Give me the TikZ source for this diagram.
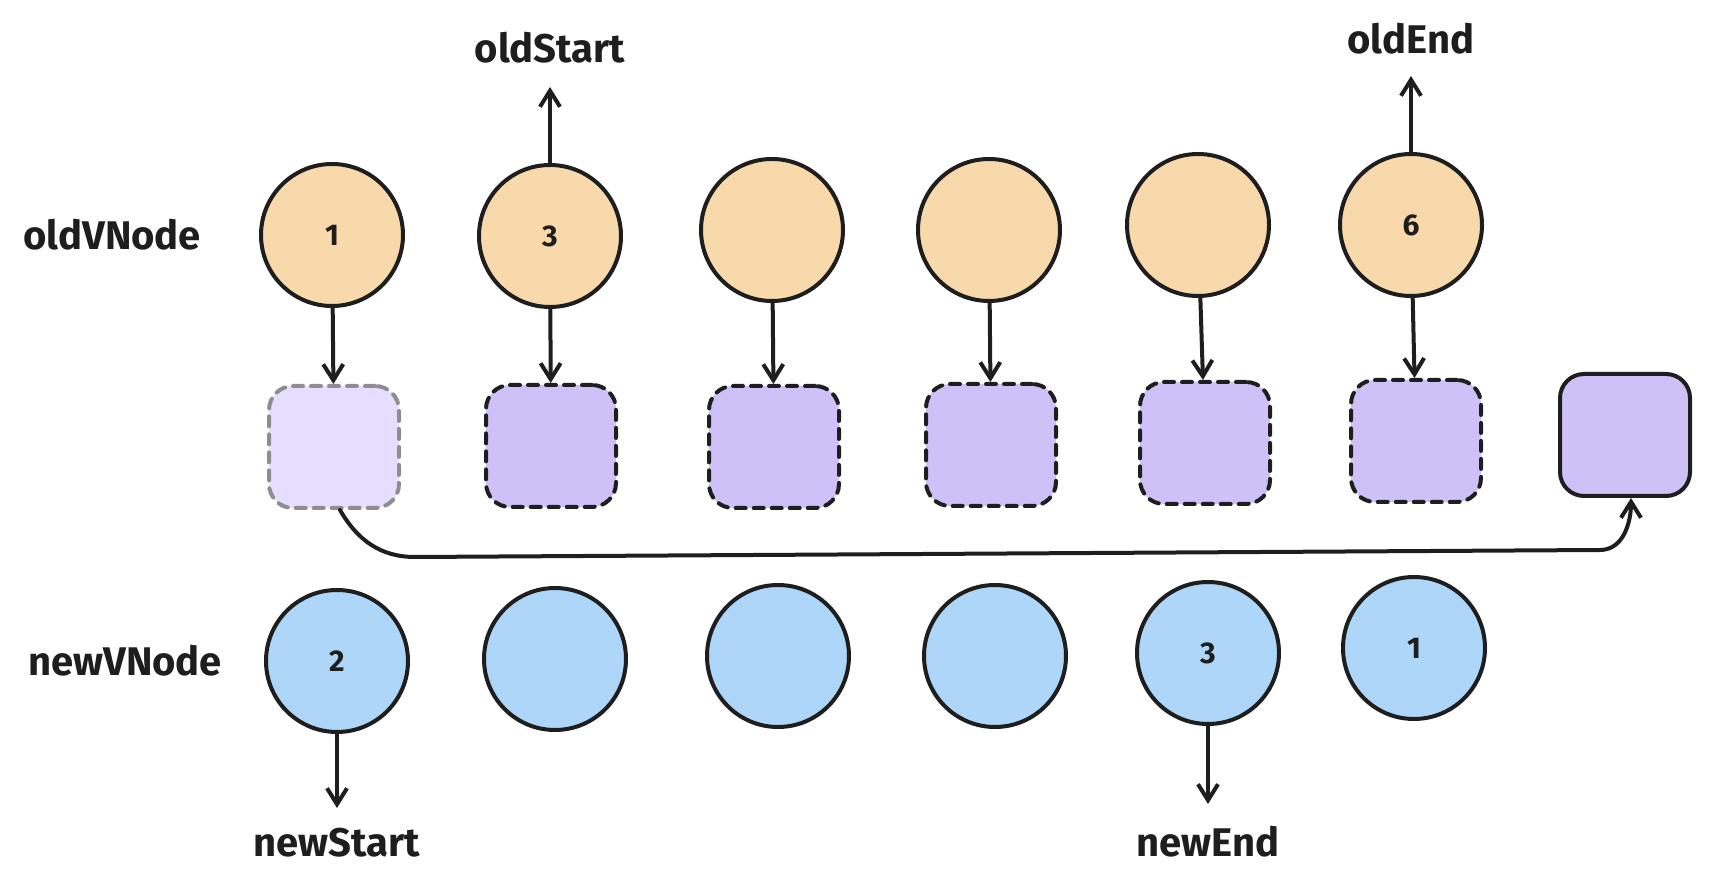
\documentclass[tikz,border=0pt]{standalone}
\usepackage{fontspec}
\setmainfont{Fira Sans}
\usetikzlibrary{arrows.meta,positioning}

\definecolor{ink}{RGB}{30,30,30}
\definecolor{oldfill}{RGB}{248,217,172}
\definecolor{newfill}{RGB}{174,214,248}
\definecolor{vfill}{RGB}{206,193,248}
\definecolor{ghostfill}{RGB}{229,222,255}
\definecolor{ghostline}{RGB}{142,142,142}

\begin{document}
\begin{tikzpicture}[
  x=0.5pt, y=-0.5pt, >={Straight Barb[length=8pt,width=10pt]},
  line width=2pt, line cap=round, line join=round, color=ink,
  oldv/.style={circle, draw=ink, fill=oldfill, minimum size=71pt, inner sep=0pt, font=\bfseries\fontsize{15}{15}\selectfont},
  newv/.style={oldv, fill=newfill},
  elm/.style={draw=ink, fill=vfill, rounded corners=12pt, minimum width=65pt, minimum height=61pt, dash pattern=on 5pt off 4pt},
  ghost/.style={elm, draw=ghostline, fill=ghostfill},
  real/.style={elm, solid},
  lab/.style={inner sep=2pt, font=\bfseries\fontsize{20}{22}\selectfont},
  ptr/.style={->, draw=ink}]
\useasboundingbox (0,0) rectangle (1714,886);
% old children
\node[oldv] (o1) at (332,235) {1};
\node[oldv] (o2) at (550,236) {3};
\node[oldv] (o3) at (772,230) {};
\node[oldv] (o4) at (989,230) {};
\node[oldv] (o5) at (1198,225) {};
\node[oldv] (o6) at (1411,225) {6};
\node[lab, left=26pt of o1] (oldlab) {oldVNode};
% real dom
\node[ghost] (s1) at (334,447) {};
\node[elm] (s2) at (551,446) {};
\node[elm] (s3) at (774,447) {};
\node[elm] (s4) at (991,445) {};
\node[elm] (s5) at (1205,443) {};
\node[elm] (s6) at (1416,441) {};
\node[real] (s7) at (1625,435) {};
% new children
\node[newv] (n1) at (337,661) {2};
\node[newv] (n2) at (555,659) {};
\node[newv] (n3) at (778,656) {};
\node[newv] (n4) at (995,656) {};
\node[newv] (n5) at (1208,653) {3};
\node[newv] (n6) at (1414,648) {1};
\node[lab, left=18pt of n1] (newlab) {newVNode};
% pointers
\node[lab, above=47pt of o2] (oldStart) {oldStart};
\node[lab, above=46pt of o6] (oldEnd) {oldEnd};
\node[lab, below=44pt of n1] (newStart) {newStart};
\node[lab, below=47pt of n5] (newEnd) {newEnd};
\draw[ptr, shorten >=9pt] (o2) -- (oldStart);
\draw[ptr, shorten >=8pt] (o6) -- (oldEnd);
\draw[ptr, shorten >=7pt] (n1) -- (newStart);
\draw[ptr, shorten >=8pt] (n5) -- (newEnd);
\draw[ptr] (o1) -- (s1); \draw[ptr] (o2) -- (s2); \draw[ptr] (o3) -- (s3);
\draw[ptr] (o4) -- (s4); \draw[ptr] (o5) -- (s5); \draw[ptr] (o6) -- (s6);
% move
\coordinate (bendL) at (415,557);
\coordinate (bendR) at (1600,550);
\draw[ptr] ([xshift=3pt]s1.south) to[out=-60,in=180] (bendL) -- (bendR) to[out=0,in=-90] ([xshift=3pt]s7.south);
\end{tikzpicture}
\end{document}
